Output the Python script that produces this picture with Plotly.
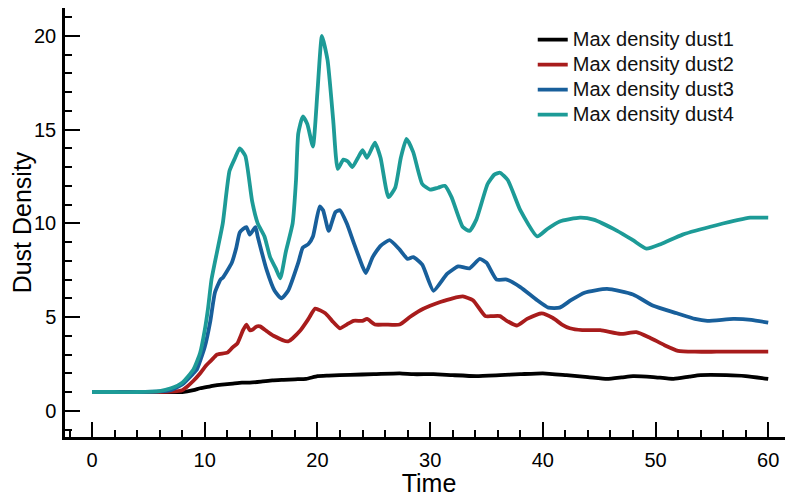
import plotly.graph_objects as go

# ---- data ----
t_dust1 = [0, 2, 4, 6, 7, 8, 9, 9.6, 10.5, 11.1, 12.0, 12.5, 13.3, 14.0, 15.0, 16.0, 17.0, 18.0, 19.0,
           20.0, 21.0, 22.9, 25.0, 27.3, 28.5, 30.3, 32.0, 34.1, 36.2, 38.0, 40.0, 42.1, 44.0, 45.7,
           47.0, 48.0, 49.8, 51.6, 53.0, 54.0, 56.3, 58.0, 60]
v_dust1 = [1, 1, 1, 1, 1, 1.0, 1.1, 1.2, 1.3, 1.37, 1.42, 1.45, 1.5, 1.5, 1.55, 1.62, 1.65, 1.68, 1.7,
           1.85, 1.88, 1.92, 1.95, 2.0, 1.95, 1.95, 1.9, 1.85, 1.9, 1.95, 2.0, 1.9, 1.8, 1.7,
           1.78, 1.85, 1.8, 1.7, 1.82, 1.9, 1.9, 1.85, 1.7]

t_dust2 = [0, 2, 4, 6, 7, 8, 8.4, 9.0, 9.6, 10.1, 10.6, 11.1, 12.0, 12.5, 12.9, 13.4, 13.7, 14.0, 14.3,
           14.6, 14.9, 15.5, 16.1, 17.4, 18.5, 19.2, 19.8, 20.7, 21.3, 22.0, 22.6, 23.2, 24.0, 24.4,
           25.1, 26.0, 27.3, 28.2, 29.1, 30.0, 30.9, 32.0, 32.9, 33.8, 34.9, 35.5, 36.2, 36.8, 37.7,
           38.6, 39.9, 40.9, 41.7, 42.4, 43.5, 45.1, 46.9, 48.3, 49.5, 50.8, 52.0, 53.5, 55.4, 58, 60]
v_dust2 = [1, 1, 1, 1, 1.02, 1.1, 1.27, 1.6, 2.0, 2.4, 2.7, 3.0, 3.1, 3.4, 3.6, 4.3, 4.6, 4.3, 4.35,
           4.5, 4.5, 4.25, 4.0, 3.7, 4.3, 4.9, 5.45, 5.2, 4.8, 4.4, 4.6, 4.8, 4.8, 4.9,
           4.6, 4.6, 4.6, 5.0, 5.35, 5.6, 5.8, 6.0, 6.1, 5.9, 5.05, 5.05, 5.05, 4.8, 4.55,
           4.9, 5.2, 4.95, 4.6, 4.4, 4.3, 4.3, 4.1, 4.2, 3.9, 3.5, 3.2, 3.15, 3.15, 3.15, 3.15]

t_dust3 = [0, 2, 4, 6, 7, 8, 9, 9.3, 10, 10.5, 10.9, 11.4, 11.6, 12.4, 12.8, 13.1, 13.4, 13.7, 14.0,
           14.5, 14.7, 15.5, 16.2, 16.8, 17.4, 18.3, 18.7, 19.2, 19.6, 20.2, 20.5, 21.0, 21.6, 22.0,
           22.6, 23.2, 24.0, 24.3, 24.9, 25.6, 26.4, 27.3, 28.0, 28.5, 29.3, 30.3, 31.5, 32.5, 33.5,
           34.4, 35.0, 35.9, 36.8, 38.0, 39.5, 40.5, 41.5, 42.5, 43.7, 45.7, 48.0, 49.8, 51.9, 53.5,
           54.6, 56.9, 58.5, 60]
v_dust3 = [1, 1, 1, 1.03, 1.1, 1.4, 2.0, 2.2, 3.4, 4.8, 6.3, 7.0, 7.1, 7.9, 8.7, 9.5, 9.7, 9.8, 9.4,
           9.8, 9.3, 7.5, 6.4, 6.0, 6.4, 7.9, 8.7, 8.9, 9.3, 10.9, 10.7, 9.6, 10.6, 10.7,
           10.0, 9.0, 7.7, 7.35, 8.2, 8.8, 9.1, 8.6, 8.1, 8.2, 7.8, 6.4, 7.3, 7.7, 7.6,
           8.1, 7.9, 7.0, 7.0, 6.6, 5.9, 5.5, 5.5, 5.9, 6.3, 6.5, 6.2, 5.6, 5.2, 4.9,
           4.8, 4.9, 4.85, 4.7]

t_dust4 = [0, 2, 4, 6, 7, 8, 9, 9.6, 10, 10.3, 10.6, 11.2, 11.6, 12.2, 12.7, 13.1, 13.6, 14.2, 14.7,
           15.3, 15.8, 16.3, 16.7, 17.2, 17.8, 18.1, 18.3, 18.7, 19.1, 19.6, 20.0, 20.4, 20.9, 21.4,
           21.8, 22.3, 22.7, 23.1, 23.6, 24.0, 24.4, 25.1, 25.6, 26.3, 26.9, 27.4, 27.9, 28.5, 29.3,
           30.0, 30.7, 31.3, 31.9, 32.9, 33.5, 34.1, 35.1, 35.7, 36.2, 36.9, 38.0, 39.5, 40.4, 41.5,
           43.3, 44.5, 46.6, 48.0, 49.2, 50.5, 52.4, 55.4, 58.4, 60]
v_dust4 = [1, 1, 1, 1.05, 1.2, 1.5, 2.2, 3.1, 4.3, 5.5, 7.0, 8.8, 10.0, 12.8, 13.5, 14.0, 13.6, 11.2, 10.0,
           9.3, 8.2, 7.6, 7.07, 8.5, 10.0, 12.3, 14.8, 15.7, 15.3, 14.1, 17.0, 20.0, 18.7, 15.5,
           12.9, 13.4, 13.3, 13.0, 13.5, 13.9, 13.5, 14.3, 13.5, 11.4, 11.9, 13.5, 14.5, 13.8, 12.1,
           11.8, 11.9, 12.0, 11.4, 9.8, 9.6, 10.2, 12.1, 12.6, 12.7, 12.3, 10.7, 9.3, 9.7, 10.1,
           10.3, 10.2, 9.6, 9.1, 8.65, 8.9, 9.4, 9.9, 10.3, 10.3]

series_names = ["Max density dust1", "Max density dust2", "Max density dust3", "Max density dust4"]
series_colors = ["#000000", "#a81c1c", "#185f9b", "#1d9b97"]

fig = go.Figure()
for name, color, t, v in zip(series_names, series_colors,
                             [t_dust1, t_dust2, t_dust3, t_dust4],
                             [v_dust1, v_dust2, v_dust3, v_dust4]):
    fig.add_trace(go.Scatter(x=t, y=v, mode="lines",
                             name=f"<span style='font-size:20px'>{name}</span>",
                             line=dict(color=color, width=3.8, shape="spline", smoothing=0.5)))

FONT = "Liberation Sans, Arial, sans-serif"
axis_font = dict(family=FONT, size=20, color="black")
# page body has an 8px margin, so the figure is sized to fit the 793x497 window
fig.update_layout(
    width=785, height=489,
    margin=dict(l=57, r=0, t=0, b=60, autoexpand=False),
    plot_bgcolor="white", paper_bgcolor="white",
    font=dict(family=FONT, color="black"),
    showlegend=True,
    legend=dict(x=0.6425, y=0.967, xanchor="left", yanchor="top",
                font=dict(size=16.9, family=FONT, color="#111"),
                bgcolor="rgba(0,0,0,0)", tracegroupgap=0),
    xaxis=dict(range=[-2.4, 62.2], tick0=0, dtick=10, ticks="inside", ticklen=15, tickwidth=2,
               tickcolor="black", showline=True, linewidth=2.5, linecolor="black", mirror=True,
               showgrid=False, zeroline=False, tickfont=axis_font, automargin=True,
               ticklabelstandoff=3,
               minor=dict(dtick=2, ticks="inside", ticklen=7, tickwidth=1.5, tickcolor="black"),
               title=dict(text="Time", font=dict(size=25), standoff=8)),
    yaxis=dict(range=[-1.4, 21.49], tick0=0, dtick=5, ticks="inside", ticklen=15, tickwidth=2,
               tickcolor="black", showline=True, linewidth=2.5, linecolor="black",
               showgrid=False, zeroline=False, tickfont=axis_font, automargin=True,
               ticklabelstandoff=2,
               minor=dict(dtick=1, ticks="inside", ticklen=7, tickwidth=1.5, tickcolor="black"),
               title=dict(text="Dust Density", font=dict(size=25), standoff=4)),
)

fig.write_html("out.html")
